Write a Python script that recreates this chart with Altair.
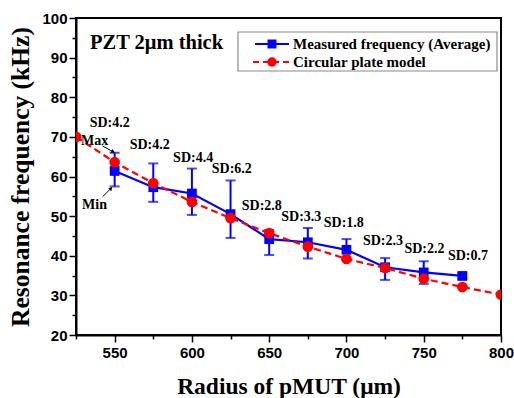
import altair as alt
import pandas as pd

# ---- data ----
radius_meas = [550, 575, 600, 625, 650, 675, 700, 725, 750, 775]
freq_meas = [61.4, 57.3, 55.7, 50.5, 44.2, 43.4, 41.5, 37.1, 35.8, 34.9]
freq_max = [66.0, 63.3, 62.0, 59.0, 46.5, 47.0, 44.2, 39.4, 38.6, 35.6]
freq_min = [57.5, 53.6, 50.3, 44.5, 40.2, 39.3, 39.0, 33.9, 32.9, 34.2]

radius_model = [525, 550, 575, 600, 625, 650, 675, 700, 725, 750, 775, 800]
freq_model = [70.0, 63.6, 58.3, 53.6, 49.5, 45.7, 42.3, 39.2, 36.9, 34.2, 32.1, 30.2]

sd_labels = ["SD:4.2", "SD:4.2", "SD:4.4", "SD:6.2", "SD:2.8", "SD:3.3",
             "SD:1.8", "SD:2.3", "SD:2.2", "SD:0.7"]
sd_x = [546.8, 572.7, 600.8, 625.8, 645.2, 670.8, 698.3, 723.6, 750.5, 778.6]
sd_y = [73.5, 68.0, 64.7, 61.9, 52.6, 49.9, 48.3, 43.8, 41.7, 40.0]

note_labels = ["Max", "Min"]
note_x = [537.0, 537.0]
note_y = [69.0, 52.8]

arrow_x1 = [542.2, 542.2]
arrow_y1 = [67.7, 54.9]
arrow_x2 = [548.7, 547.4]
arrow_y2 = [66.3, 56.9]
arrow_angle = [119, 45]

legend_labels = ["Measured frequency (Average)", "Circular plate model"]
title_text = "PZT 2μm thick"

BLUE = "#0000ff"
RED = "#ff0000"
SERIF = "Liberation Serif"
SANS = "Liberation Sans"

meas = pd.DataFrame({"r": radius_meas, "f": freq_meas, "hi": freq_max, "lo": freq_min})
model = pd.DataFrame({"r": radius_model, "f": freq_model})
sd = pd.DataFrame({"r": sd_x, "f": sd_y, "t": sd_labels})
notes = pd.DataFrame({"r": note_x, "f": note_y, "t": note_labels})
arrows = pd.DataFrame({"x1": arrow_x1, "y1": arrow_y1, "x2": arrow_x2, "y2": arrow_y2, "a": arrow_angle})

xscale = alt.Scale(domain=[525, 800], nice=False, zero=False)
yscale = alt.Scale(domain=[20, 100], nice=False, zero=False)

x_axis = alt.Axis(
    values=list(range(525, 801, 25)),
    labelExpr="datum.value % 50 === 0 ? datum.label : ''",
    title="Radius of pMUT (μm)",
    titleFont=SERIF, titleFontWeight="bold", titleFontSize=23.5, titleColor="black",
    labelFont=SANS, labelFontWeight="bold", labelFontSize=15, labelColor="black",
    grid=False, labelPadding=3, titlePadding=14, labelFlush=False,
    tickSize={"condition": {"test": "datum.value % 50 === 0", "value": 7}, "value": 4},
)
y_axis = alt.Axis(
    values=list(range(20, 101, 5)),
    labelExpr="datum.value % 10 === 0 ? datum.label : ''",
    title="Resonance frequency (kHz)",
    titleFont=SERIF, titleFontWeight="bold", titleFontSize=25.5, titleColor="black",
    labelFont=SANS, labelFontWeight="bold", labelFontSize=15, labelColor="black",
    grid=False, labelPadding=2, titlePadding=8, labelFlush=False,
    tickSize={"condition": {"test": "datum.value % 10 === 0", "value": 7}, "value": 4},
)

X = alt.X("r:Q", scale=xscale, axis=x_axis)
Y = alt.Y("f:Q", scale=yscale, axis=y_axis)

base_meas = alt.Chart(meas)
err_rule = base_meas.mark_rule(color=BLUE, strokeWidth=2).encode(
    x=X, y=alt.Y("hi:Q", scale=yscale, axis=y_axis), y2="lo:Q")
cap_hi = base_meas.mark_tick(color=BLUE, thickness=2, size=10, orient="horizontal").encode(
    x=X, y=alt.Y("hi:Q", scale=yscale, axis=y_axis))
cap_lo = base_meas.mark_tick(color=BLUE, thickness=2, size=10, orient="horizontal").encode(
    x=X, y=alt.Y("lo:Q", scale=yscale, axis=y_axis))
meas_line = base_meas.mark_line(color=BLUE, strokeWidth=2.2).encode(x=X, y=Y)
meas_pts = base_meas.mark_point(shape="square", filled=True, color=BLUE, size=95, opacity=1).encode(x=X, y=Y)

base_model = alt.Chart(model)
model_line = base_model.mark_line(color=RED, strokeWidth=2.2, strokeDash=[7, 4], clip=True).encode(x=X, y=Y)
model_pts = base_model.mark_point(shape="circle", filled=True, color=RED, size=115, opacity=1, clip=True).encode(x=X, y=Y)

sd_text = alt.Chart(sd).mark_text(font=SERIF, fontWeight="bold", fontSize=14, color="black").encode(
    x=X, y=Y, text="t:N")
note_text = alt.Chart(notes).mark_text(font=SERIF, fontWeight="bold", fontSize=14, color="black").encode(
    x=X, y=Y, text="t:N")

arrow_line = alt.Chart(arrows).mark_rule(color="black", strokeWidth=1).encode(
    x=alt.X("x1:Q", scale=xscale, axis=x_axis), y=alt.Y("y1:Q", scale=yscale, axis=y_axis),
    x2="x2:Q", y2="y2:Q")
arrow_head = alt.Chart(arrows).mark_point(shape="triangle", filled=True, color="black", size=18, opacity=1).encode(
    x=alt.X("x2:Q", scale=xscale, axis=x_axis), y=alt.Y("y2:Q", scale=yscale, axis=y_axis),
    angle=alt.Angle("a:Q", scale=None))

# ---- legend (drawn manually) and title ----
one = pd.DataFrame({"k": [0]})
leg_box = alt.Chart(one).mark_rect(
    fill="white", stroke="#8a8a8a", strokeWidth=1.2).encode(
    x=alt.value(162), x2=alt.value(421), y=alt.value(14), y2=alt.value(53))
leg_line1 = alt.Chart(one).mark_rule(color=BLUE, strokeWidth=2.2).encode(
    x=alt.value(179), x2=alt.value(213), y=alt.value(26))
leg_line2 = alt.Chart(one).mark_rule(color=RED, strokeWidth=2.2, strokeDash=[6, 4]).encode(
    x=alt.value(177), x2=alt.value(214), y=alt.value(44))
leg_sq = alt.Chart(one).mark_point(shape="square", filled=True, color=BLUE, size=80, opacity=1).encode(
    x=alt.value(196), y=alt.value(26))
leg_ci = alt.Chart(one).mark_point(shape="circle", filled=True, color=RED, size=90, opacity=1).encode(
    x=alt.value(196), y=alt.value(44))
leg_text1 = alt.Chart(pd.DataFrame({"t": [legend_labels[0]]})).mark_text(
    font=SERIF, fontWeight="bold", fontSize=15, align="left", baseline="middle", color="black").encode(
    x=alt.value(217), y=alt.value(26), text="t:N")
leg_text2 = alt.Chart(pd.DataFrame({"t": [legend_labels[1]]})).mark_text(
    font=SERIF, fontWeight="bold", fontSize=15, align="left", baseline="middle", color="black").encode(
    x=alt.value(217), y=alt.value(44), text="t:N")
title_mark = alt.Chart(pd.DataFrame({"t": [title_text]})).mark_text(
    font=SERIF, fontWeight="bold", fontSize=20.5, align="left", baseline="middle", color="black").encode(
    x=alt.value(14), y=alt.value(25), text="t:N")

chart = alt.layer(
    err_rule, cap_hi, cap_lo, meas_line, meas_pts,
    model_line, model_pts,
    sd_text, note_text, arrow_line, arrow_head,
    leg_box, leg_line1, leg_line2, leg_sq, leg_ci, leg_text1, leg_text2, title_mark,
).properties(
    width=425, height=317,
    autosize=alt.AutoSizeParams(type="none"),
    padding={"left": 76, "top": 18, "right": 13, "bottom": 63},
).configure_view(
    stroke="black", strokeWidth=2
).configure_axis(
    domainColor="black", domainWidth=2, tickColor="black", tickWidth=1.5,
)

chart.save("out.html", embed_options={"renderer": "svg", "actions": False})
